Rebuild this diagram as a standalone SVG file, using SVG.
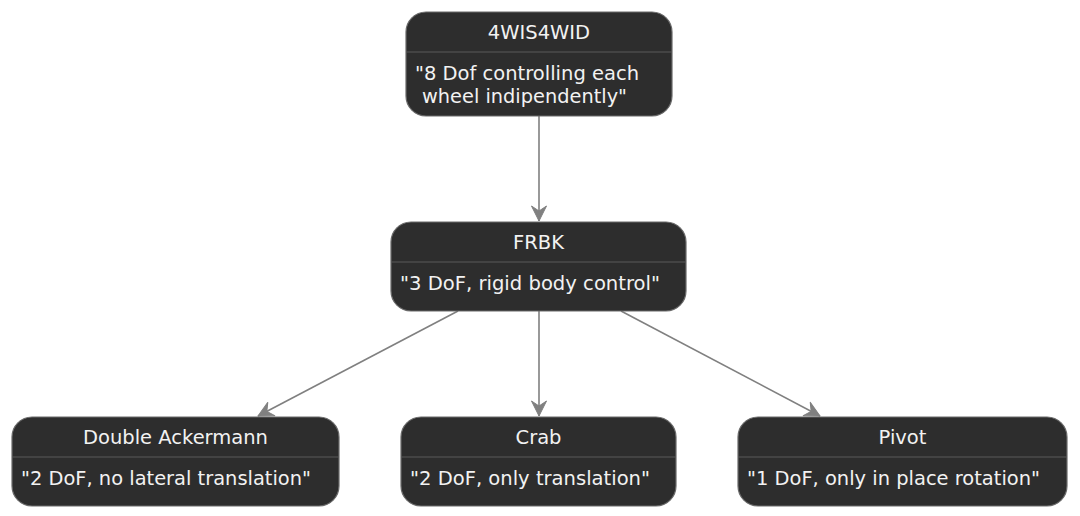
<svg xmlns="http://www.w3.org/2000/svg" width="1080" height="516" viewBox="0 0 1080 516">
<defs>
<style>
.box{fill:#2d2d2d;stroke:#6a6a6a;stroke-width:1.2}
.sep{stroke:#5a5a5a;stroke-width:1.2}
.t{font-family:"DejaVu Sans",Verdana,sans-serif;font-size:19.5px;fill:#f2f2f2}
.c{text-anchor:middle}
.edge{stroke:#808080;stroke-width:1.6;fill:none}
</style>
<marker id="arr" viewBox="0 0 20 20" refX="19" refY="10" markerWidth="20" markerHeight="20" markerUnits="userSpaceOnUse" orient="auto">
<path d="M19,10 L4,2.5 L9,10 L4,17.5 Z" fill="#808080" stroke="#808080" stroke-width="1" stroke-linejoin="round"/>
</marker>
</defs>
<rect width="1080" height="516" fill="#ffffff"/>
<g id="connectors">
<line class="edge" x1="539" y1="116" x2="539" y2="221" marker-end="url(#arr)"/>
<line class="edge" x1="458" y1="311" x2="258" y2="416" marker-end="url(#arr)"/>
<line class="edge" x1="539" y1="311" x2="539" y2="416" marker-end="url(#arr)"/>
<line class="edge" x1="621" y1="311" x2="820" y2="416" marker-end="url(#arr)"/>
</g>
<g id="n4WIS4WID">
<rect class="box" x="406" y="12" width="266" height="104" rx="20"/>
<line class="sep" x1="406" y1="52" x2="672" y2="52"/>
<text class="t c" x="539" y="39">4WIS4WID</text>
<text class="t" x="415" y="80" textLength="224" lengthAdjust="spacingAndGlyphs">"8 Dof controlling each</text>
<text class="t" x="422" y="103" textLength="205" lengthAdjust="spacingAndGlyphs">wheel indipendently"</text>
</g>
<g id="FRBK">
<rect class="box" x="391" y="222" width="295" height="89" rx="20"/>
<line class="sep" x1="391" y1="262" x2="686" y2="262"/>
<text class="t c" x="538.5" y="249">FRBK</text>
<text class="t" x="400" y="290" textLength="260" lengthAdjust="spacingAndGlyphs">"3 DoF, rigid body control"</text>
</g>
<g id="DoubleAckermann">
<rect class="box" x="12" y="417" width="327" height="89" rx="20"/>
<line class="sep" x1="12" y1="457" x2="339" y2="457"/>
<text class="t c" x="175.5" y="444">Double Ackermann</text>
<text class="t" x="21" y="485" textLength="290" lengthAdjust="spacingAndGlyphs">"2 DoF, no lateral translation"</text>
</g>
<g id="Crab">
<rect class="box" x="401" y="417" width="275" height="89" rx="20"/>
<line class="sep" x1="401" y1="457" x2="676" y2="457"/>
<text class="t c" x="538.5" y="444">Crab</text>
<text class="t" x="410" y="485" textLength="240" lengthAdjust="spacingAndGlyphs">"2 DoF, only translation"</text>
</g>
<g id="Pivot">
<rect class="box" x="738" y="417" width="329" height="89" rx="20"/>
<line class="sep" x1="738" y1="457" x2="1067" y2="457"/>
<text class="t c" x="902.5" y="444">Pivot</text>
<text class="t" x="747" y="485" textLength="293" lengthAdjust="spacingAndGlyphs">"1 DoF, only in place rotation"</text>
</g>
</svg>
